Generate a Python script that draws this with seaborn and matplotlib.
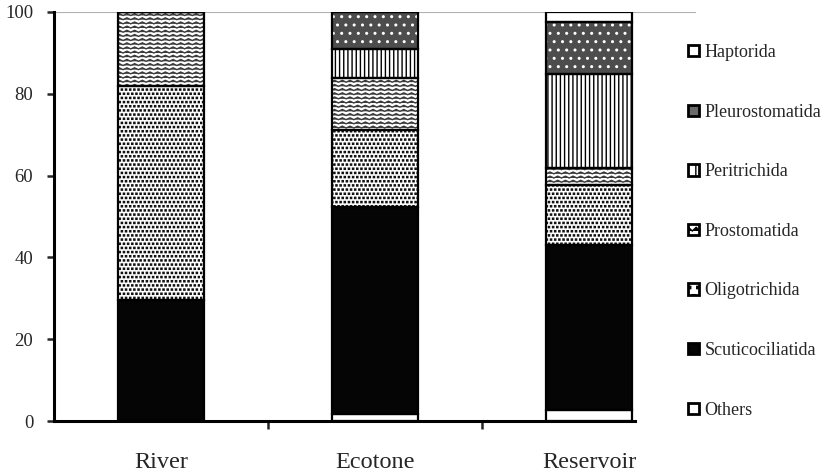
import warnings
warnings.filterwarnings("ignore")
import numpy as np
import pandas as pd
import matplotlib
matplotlib.use("Agg")
import matplotlib.pyplot as plt
import matplotlib.hatch as mhatch
from matplotlib.path import Path
from matplotlib.patches import Patch
import seaborn as sns

# ---------------- data ----------------
sites = ["River", "Ecotone", "Reservoir"]
others = [0.0, 1.8, 2.6]
scuticociliatida = [29.6, 50.5, 40.4]
oligotrichida = [52.2, 18.8, 14.7]
prostomatida = [18.2, 12.7, 4.1]
peritrichida = [0.0, 7.1, 23.0]
pleurostomatida = [0.0, 9.1, 12.8]
haptorida = [0.0, 0.0, 2.4]
yticks = [0, 20, 40, 60, 80, 100]

taxa = ["Others", "Scuticociliatida", "Oligotrichida", "Prostomatida",
        "Peritrichida", "Pleurostomatida", "Haptorida"]
values = [others, scuticociliatida, oligotrichida, prostomatida,
          peritrichida, pleurostomatida, haptorida]


# ------------- custom hatches -------------
class ZigzagHatch(mhatch.HatchPatternBase):
    def __init__(self, hatch, density):
        self.num_rows = hatch.count('z') * density
        self.peaks = 13
        self.npts = 2 * self.peaks + 1
        self.num_vertices = self.num_rows * self.npts

    def set_vertices_and_codes(self, vertices, codes):
        k = 0
        amp = 0.22 / max(self.num_rows, 1)
        for r in range(self.num_rows):
            y0 = (r + 0.5) / self.num_rows
            for j in range(self.npts):
                vertices[k] = (j / (2 * self.peaks), y0 + (amp if j % 2 else -amp))
                codes[k] = Path.LINETO if j else Path.MOVETO
                k += 1


class DotHatch(mhatch.HatchPatternBase):
    def __init__(self, hatch, density):
        self.num_rows = hatch.count('d') * density
        self.num_vertices = self.num_rows * self.num_rows * 5

    def set_vertices_and_codes(self, vertices, codes):
        n = self.num_rows
        h = 0.14 / max(n, 1)
        k = 0
        for r in range(n):
            y = (r + 0.5) / n
            for j in range(n):
                x = (j + 0.25 + 0.5 * (r % 2)) / n
                pts = [(x - h, y - h), (x + h, y - h), (x + h, y + h),
                       (x - h, y + h), (x - h, y - h)]
                for i, p in enumerate(pts):
                    vertices[k] = p
                    codes[k] = (Path.MOVETO if i == 0 else
                                Path.CLOSEPOLY if i == 4 else Path.LINETO)
                    k += 1


mhatch._hatch_types.append(ZigzagHatch)
mhatch._hatch_types.append(DotHatch)

styles = {
    "Others": dict(fc="white", hatch=None, hc="black"),
    "Scuticociliatida": dict(fc="#050505", hatch=None, hc="black"),
    "Oligotrichida": dict(fc="white", hatch="dddd", hc="#111111"),
    "Prostomatida": dict(fc="white", hatch="zzzz", hc="#3a3a3a"),
    "Peritrichida": dict(fc="white", hatch="||||", hc="black"),
    "Pleurostomatida": dict(fc="#4d4d4d", hatch="..", hc="white"),
    "Haptorida": dict(fc="white", hatch=None, hc="black"),
}

df = pd.DataFrame({"site": sites})
for t, v in zip(taxa, values):
    df[t] = v

sns.set_style("white")
plt.rcParams["font.family"] = ["Liberation Serif", "DejaVu Serif"]
plt.rcParams["hatch.linewidth"] = 1.0

fig = plt.figure(figsize=(8.31, 4.73), dpi=100)
ax = fig.add_axes([54 / 831, 1 - 421 / 473, (696 - 54) / 831, (421 - 12) / 473])

bw = 0.405
bottom = np.zeros(len(sites))
for t in taxa:
    st = styles[t]
    sns.barplot(data=df, x="site", y=t, order=sites, bottom=bottom,
                color=st["fc"], hatch=st["hatch"], edgecolor=st["hc"],
                linewidth=0, width=bw, saturation=1, ax=ax, errorbar=None)
    bottom = bottom + df[t].to_numpy()

# outlines
bottom = np.zeros(len(sites))
for t in taxa:
    sns.barplot(data=df, x="site", y=t, order=sites, bottom=bottom,
                color="white", fill=False, edgecolor="black", linewidth=1.6,
                width=bw, ax=ax, errorbar=None)
    bottom = bottom + df[t].to_numpy()

ax.set_xlim(-0.5, 2.5)
ax.set_ylim(0, 100)
ax.axhline(100, color="#b0b0b0", lw=0.8, zorder=0)

for s in ["top", "right"]:
    ax.spines[s].set_visible(False)
for s in ["left", "bottom"]:
    ax.spines[s].set_linewidth(2.2)
    ax.spines[s].set_color("black")
ax.spines["bottom"].set_bounds(-0.5, 2.215)

ax.set_yticks(yticks)
ax.set_yticklabels([str(y) for y in yticks], fontsize=13.5)
ax.tick_params(axis="y", direction="out", length=5, width=1.8, pad=10, left=True)
ax.set_xticks([0, 1, 2])
ax.set_xticklabels(sites, fontsize=17.5)
ax.tick_params(axis="x", which="major", length=0, pad=22)
ax.set_xticks([0.5, 1.5], minor=True)
ax.tick_params(axis="x", which="minor", direction="out", length=6, width=1.8, bottom=True)
ax.set_xlabel("")
ax.set_ylabel("")

handles = []
for t in taxa[::-1]:
    st = styles[t]
    fc = st["fc"]
    h = st["hatch"]
    if t == "Pleurostomatida":
        fc, h = "#6a6a6a", None
    if h is not None:
        h = h[:2]
    handles.append(Patch(facecolor=fc, edgecolor="black", linewidth=2, hatch=h))
leg = fig.legend(handles, taxa[::-1], loc="upper left",
                 bbox_to_anchor=(688 / 831, 1 - 44 / 473), frameon=False,
                 fontsize=13, handlelength=0.6, handleheight=0.6,
                 handletextpad=0.3, labelspacing=2.36, borderpad=0,
                 borderaxespad=0)

fig.savefig("out.png", dpi=100)
